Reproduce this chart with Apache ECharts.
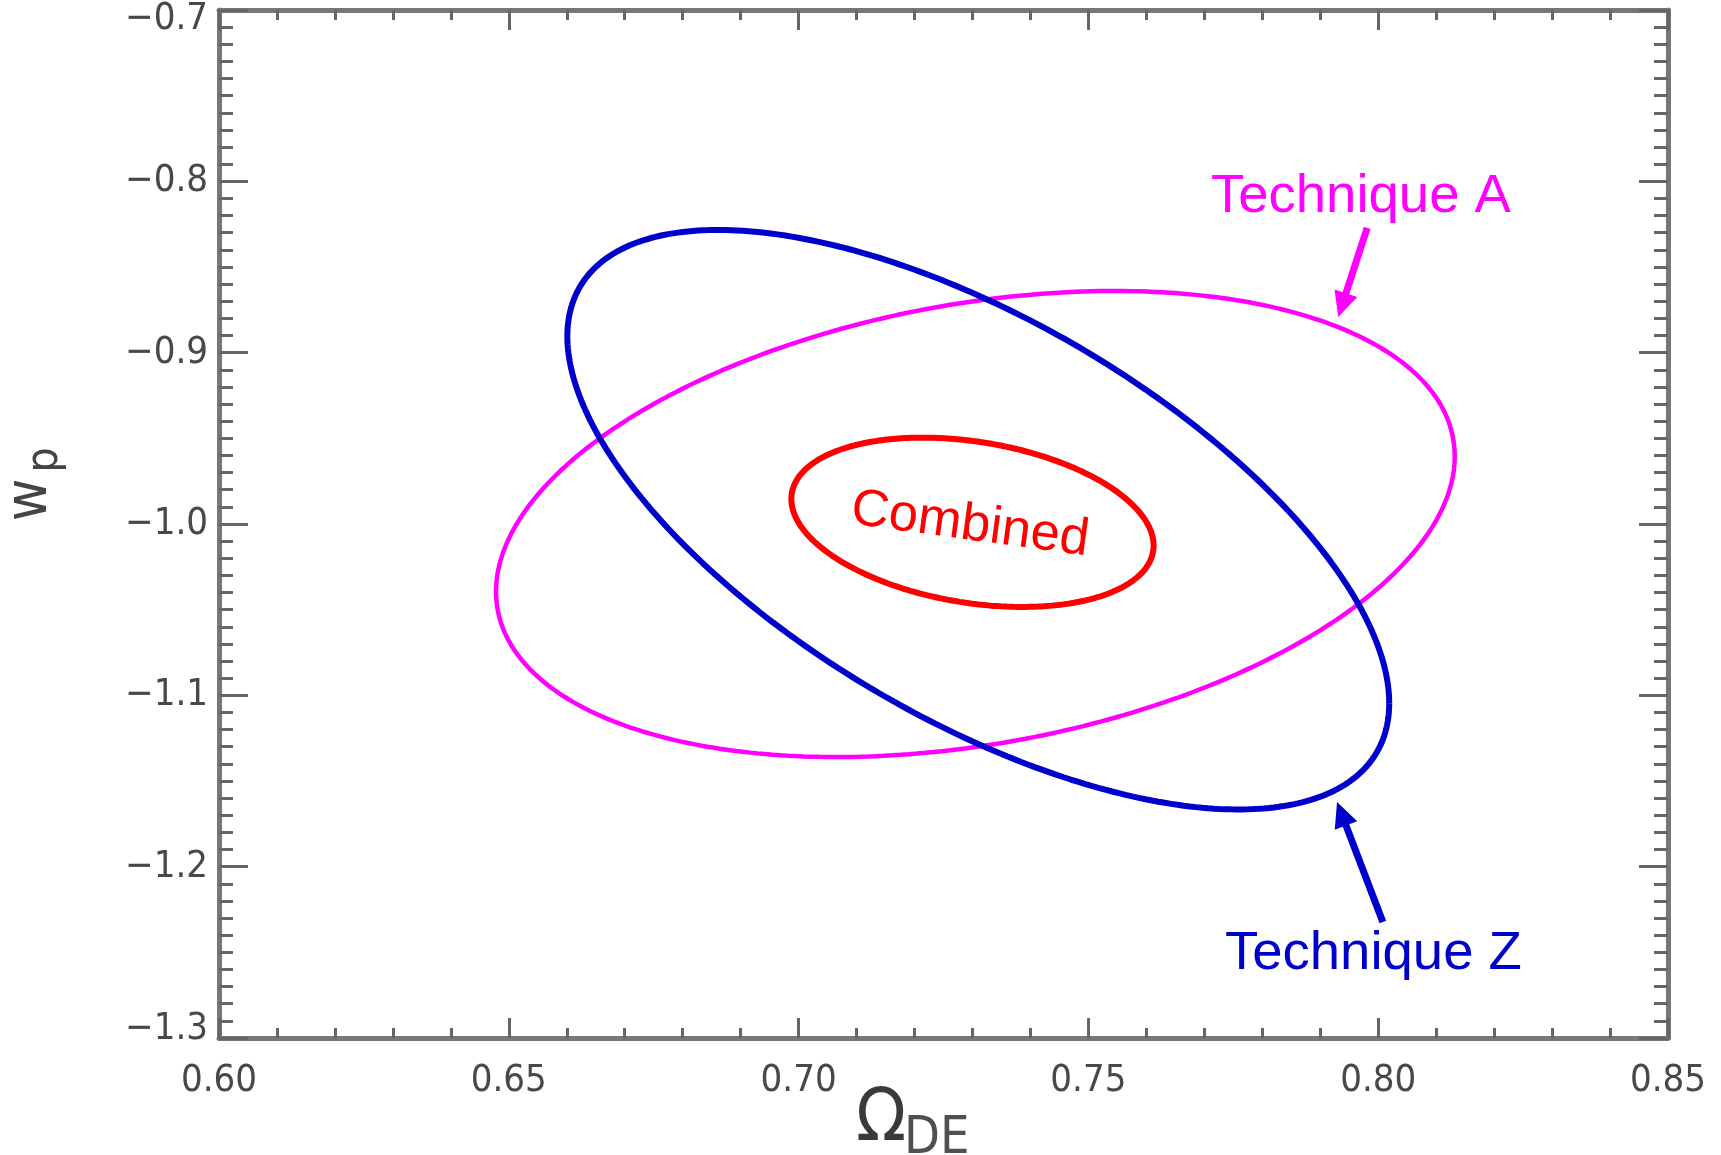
<!DOCTYPE html>
<html>
<head>
<meta charset="utf-8">
<title>w_p versus Ω_DE constraints</title>
<script src="https://cdn.jsdelivr.net/npm/echarts@6/dist/echarts.min.js"></script>
<style>
  html, body { margin: 0; padding: 0; background: #ffffff; }
  #chart { width: 1721px; height: 1155px; }
</style>
</head>
<body>
<div id="chart"></div>
<script>
// Axis ranges and tick labels
const xMin = 0.60, xMax = 0.85, xStep = 0.05;
const yMin = -1.3, yMax = -0.7, yStep = 0.1;
const xTickLabels = ['0.60', '0.65', '0.70', '0.75', '0.80', '0.85'];
const yTickLabels = ['−1.3', '−1.2', '−1.1', '−1.0', '−0.9', '−0.8', '−0.7'];

// Confidence ellipses: centre, 1-sigma extents along each axis and correlation
const ellipseNames  = ['Technique A', 'Technique Z', 'Combined'];
const ellipseColors = ['#ff00ff', '#0000cc', '#ff0000'];
const ellipseWidths = [4.5, 6, 6];
const centerX = [0.7305, 0.7310, 0.7300];
const centerY = [-1.0000, -0.9975, -0.9990];
const sigmaX  = [0.0827, 0.0709, 0.03125];
const sigmaY  = [0.1360, 0.1691, 0.0494];
const rho     = [0.29, -0.633, -0.275];

// Annotation arrows, tail -> head, in data units
const arrowFromX  = [0.7981, 0.8008];
const arrowFromY  = [-0.8272, -1.2323];
const arrowToX    = [0.7931, 0.7929];
const arrowToY    = [-0.8792, -1.1623];
const arrowColors = ['#ff00ff', '#0000cc'];

// Outline of the covariance ellipse i
function ellipseOutline(i, n) {
  const pts = [];
  const s = Math.sqrt(1 - rho[i] * rho[i]);
  for (let k = 0; k <= n; k++) {
    const t = 2 * Math.PI * k / n;
    const c = Math.cos(t), sn = Math.sin(t);
    pts.push([centerX[i] + sigmaX[i] * c,
              centerY[i] + sigmaY[i] * (rho[i] * c + s * sn)]);
  }
  return pts;
}

const tickFamily = '"DejaVu Sans Condensed", "DejaVu Sans", sans-serif';
const labelFamily = '"Liberation Sans", Arial, sans-serif';
const frameColor = '#777777';
const tickColor = '#666666';
const tickTextColor = '#484848';

function xAxisCfg(pos, showLabels) {
  return {
    type: 'value', position: pos, min: xMin, max: xMax, interval: xStep,
    axisLine: { show: true, onZero: false, lineStyle: { color: frameColor, width: 5 } },
    axisTick: { show: true, inside: true, length: 20, lineStyle: { color: tickColor, width: 3 } },
    minorTick: { show: true, splitNumber: 5, length: 10, lineStyle: { color: tickColor, width: 3 } },
    splitLine: { show: false }, minorSplitLine: { show: false },
    axisLabel: {
      show: showLabels, margin: 24, color: tickTextColor, fontFamily: tickFamily, fontSize: 38,
      formatter: v => xTickLabels[Math.round((v - xMin) / xStep)]
    }
  };
}

function yAxisCfg(pos, showLabels) {
  const base = { color: tickTextColor, fontFamily: tickFamily, fontSize: 38 };
  return {
    type: 'value', position: pos, min: yMin, max: yMax, interval: yStep,
    axisLine: { show: true, onZero: false, lineStyle: { color: frameColor, width: 5 } },
    axisTick: { show: true, inside: true, length: 29, lineStyle: { color: tickColor, width: 3 } },
    minorTick: { show: true, splitNumber: 10, length: 14, lineStyle: { color: tickColor, width: 3 } },
    splitLine: { show: false }, minorSplitLine: { show: false },
    axisLabel: {
      show: showLabels, margin: 11, color: tickTextColor, fontFamily: tickFamily, fontSize: 38,
      // the end labels are nudged inwards so they stay clear of the frame corners
      formatter: v => {
        const idx = Math.round((v - yMin) / yStep);
        const s = yTickLabels[idx];
        if (idx === yTickLabels.length - 1) return '{top|' + s + '}';
        if (idx === 0) return '{bot|' + s + '}';
        return s;
      },
      rich: {
        top: Object.assign({ padding: [18, 0, 0, 0] }, base),
        bot: Object.assign({ padding: [0, 0, 18, 0] }, base)
      }
    }
  };
}

const chart = echarts.init(document.getElementById('chart'), null, { renderer: 'canvas' });

chart.setOption({
  animation: false,
  backgroundColor: '#ffffff',
  grid: { left: 219, right: 53, top: 10, bottom: 117, outerBoundsMode: 'none' },
  xAxis: [xAxisCfg('bottom', true), xAxisCfg('top', false)],
  yAxis: [yAxisCfg('left', true), yAxisCfg('right', false)],
  series: ellipseNames.map((name, i) => ({
    name: name,
    type: 'line',
    xAxisIndex: 0,
    yAxisIndex: 0,
    data: ellipseOutline(i, 360),
    showSymbol: false,
    symbol: 'none',
    smooth: false,
    z: 2 + i,
    lineStyle: { color: ellipseColors[i], width: ellipseWidths[i] }
  }))
});

function text(str, x, y, size, family, color, align, rot) {
  return {
    type: 'text', x: x, y: y, rotation: rot || 0, silent: true, z: 20,
    style: {
      text: str, font: size + 'px ' + family, fill: color,
      textAlign: align, textVerticalAlign: 'middle', align: align, verticalAlign: 'middle'
    }
  };
}

// Arrow made of a shaft and a triangular head, positioned through the axes
function arrow(i) {
  const p0 = chart.convertToPixel({ xAxisIndex: 0, yAxisIndex: 0 }, [arrowFromX[i], arrowFromY[i]]);
  const p1 = chart.convertToPixel({ xAxisIndex: 0, yAxisIndex: 0 }, [arrowToX[i], arrowToY[i]]);
  const dx = p1[0] - p0[0], dy = p1[1] - p0[1];
  const len = Math.sqrt(dx * dx + dy * dy);
  const ux = dx / len, uy = dy / len;
  const headLen = 25, headHalf = 12;
  const bx = p1[0] - ux * headLen, by = p1[1] - uy * headLen;
  return [
    { type: 'line', silent: true, z: 15,
      shape: { x1: p0[0], y1: p0[1], x2: bx + ux * 2, y2: by + uy * 2 },
      style: { stroke: arrowColors[i], lineWidth: 7 } },
    { type: 'polygon', silent: true, z: 15,
      shape: { points: [[p1[0], p1[1]], [bx - uy * headHalf, by + ux * headHalf], [bx + uy * headHalf, by - ux * headHalf]] },
      style: { fill: arrowColors[i] } }
  ];
}

chart.setOption({
  graphic: [
    text('Technique A', 1211, 197, 54.5, labelFamily, '#ff00ff', 'left'),
    text('Technique Z', 1225, 954, 54.5, labelFamily, '#0000cc', 'left'),
    text('Combined', 970, 525, 52.5, labelFamily, '#ff0000', 'center', -0.134),
    // axis titles: w_p (rotated) and Ω_DE
    text('w', 31, 500, 58, tickFamily, '#444444', 'center', Math.PI / 2),
    text('p', 46, 460, 44, tickFamily, '#444444', 'center', Math.PI / 2),
    text('Ω', 881, 1121, 73, tickFamily, '#3a3a3a', 'center'),
    text('DE', 904, 1139, 52, tickFamily, '#505050', 'left')
  ].concat(arrow(0), arrow(1))
});
</script>
</body>
</html>
